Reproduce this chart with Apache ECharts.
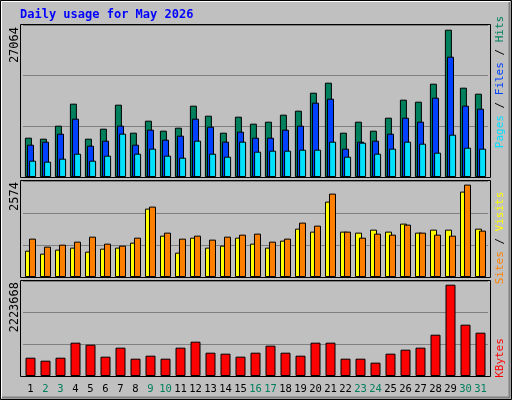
<!DOCTYPE html>
<html><head><meta charset="utf-8">
<script src="https://cdn.jsdelivr.net/npm/echarts@6/dist/echarts.min.js"></script>
<style>html,body{margin:0;padding:0;background:#c0c0c0}#c{width:512px;height:400px}</style>
</head><body><div id="c"></div>
<script>
const days = ['1','2','3','4','5','6','7','8','9','10','11','12','13','14','15','16','17','18','19','20','21','22','23','24','25','26','27','28','29','30','31'];
const weekend = ['2','3','9','10','16','17','23','24','30','31'];
const hits = [7225,7041,9430,13471,7041,8878,13287,8144,10348,8511,9062,13103,11266,8144,11083,9797,10164,11450,12185,15491,17328,8144,10164,8511,10899,14205,13838,17144,27064,16410,15308];
const files = [5939,6490,7960,10715,5756,6674,9430,5939,8695,6858,7593,10715,9246,6490,8327,7225,7225,8695,9430,13654,14389,5205,6490,6674,7960,10899,10164,14573,22104,13103,12552];
const pages = [3000,2817,3368,4286,3000,3919,7960,4286,5205,3919,3551,6674,4286,3735,6490,4653,4837,4837,5021,5021,6490,3735,6307,4286,5205,6490,6123,4470,7776,5388,5205];
const visits = [734,650,762,818,706,790,818,957,1905,1152,678,1096,818,873,1096,929,818,1013,1347,1264,2100,1264,1236,1319,1264,1487,1236,1319,1319,2379,1347];
const sites = [1069,846,901,985,1124,929,873,1096,1961,1236,1069,1152,1041,1124,1180,1208,985,1069,1515,1431,2323,1264,1096,1208,1180,1459,1236,1180,1152,2574,1292];
const kbytes = [446000,373000,446000,812000,763000,471000,690000,422000,495000,422000,690000,836000,568000,544000,471000,568000,739000,568000,495000,812000,812000,422000,422000,325000,544000,641000,690000,1006000,2223668,1250000,1055000];
const maxLabels = ['27064','2574','2223668'];

const F = 'DejaVu Sans Mono, monospace';
const yMax = [27064*152/147.3, 2574*96/92.4, 2223668*95/91.3];
const grids = [{top:25,height:152},{top:181,height:96},{top:281,height:95}];
function yAx(i){return {gridIndex:i,min:0,max:yMax[i],interval:yMax[i]/3,axisLabel:{show:false},axisLine:{show:false},axisTick:{show:false},splitLine:{show:true,lineStyle:{color:'#808080',width:1}}};}
function xAx(i){return {gridIndex:i,type:'category',data:days,axisLine:{show:false},axisTick:{show:false},
  axisLabel:{show:i===2,margin:8,fontFamily:F,fontSize:10.5,interval:0,color:function(v){return weekend.indexOf(v)>=0?'#00805c':'#000';}}};}
const bs = {borderColor:'#000',borderWidth:1};
function bar(name,data,gi,color,w,gap){return {name,type:'bar',data,xAxisIndex:gi,yAxisIndex:gi,barWidth:w,barGap:gap,itemStyle:Object.assign({color},bs),animation:false};}
const ch = echarts.init(document.getElementById('c'));
const frames = grids.map(g=>({type:'rect',shape:{x:20.5,y:g.top-0.5,width:470,height:g.height+1},style:{fill:'none',stroke:'#000',lineWidth:1},z:100}));
function vtext(x,y,rich,text,align){return {type:'text',x,y,rotation:Math.PI/2,style:{text,rich,font:'12px '+F,textAlign:align,textVerticalAlign:'middle',fill:'#000'},z:100};}
ch.setOption({
  backgroundColor:'#c0c0c0',
  grid:grids.map(g=>({left:23,right:24,top:g.top,height:g.height,containLabel:false})),
  xAxis:[0,1,2].map(xAx), yAxis:[0,1,2].map(yAx),
  series:[
    bar('Hits',hits,0,'#00805c',7,'-70%'),bar('Files',files,0,'#0040ff',7,'-70%'),bar('Pages',pages,0,'#00e0ff',7,'-70%'),
    bar('Visits',visits,1,'#ffff00',7,'-43%'),bar('Sites',sites,1,'#ff8000',7,'-43%'),
    bar('KBytes',kbytes,2,'#ff0000',10,'0%')
  ],
  graphic:[
    {type:'rect',shape:{x:0.5,y:0.5,width:511,height:399},style:{fill:'none',stroke:'#000',lineWidth:1},z:99},
    {type:'polyline',shape:{points:[[1.5,398],[1.5,1.5],[510,1.5]]},style:{stroke:'#fff',lineWidth:1,fill:'none'},z:99},
    {type:'polyline',shape:{points:[[2,397.5],[509.5,397.5],[509.5,2]]},style:{stroke:'#808080',lineWidth:2,fill:'none'},z:99},
    {type:'text',x:20,y:15,style:{text:'Daily usage for May 2026',font:'bold 12px '+F,fill:'#0000ff',textVerticalAlign:'middle'},z:100},
    ...frames,
    vtext(15,27,null,maxLabels[0],'right'),
    vtext(15,182,null,maxLabels[1],'right'),
    vtext(15,282,null,maxLabels[2],'right'),
    vtext(500,82,{p:{fill:'#00e0ff',font:'11px '+F},f:{fill:'#0040ff',font:'11px '+F},h:{fill:'#00805c',font:'11px '+F},s:{fill:'#000',font:'11px '+F}},'{p|Pages}{s| / }{f|Files}{s| / }{h|Hits}','center'),
    vtext(500,238,{o:{fill:'#ff8000',font:'11px '+F},y:{fill:'#ffff00',font:'11px '+F},s:{fill:'#000',font:'11px '+F}},'{o|Sites}{s| / }{y|Visits}','center'),
    vtext(500,358,{r:{fill:'#ff0000',font:'11px '+F}},'{r|KBytes}','center')
  ]
});
</script></body></html>
